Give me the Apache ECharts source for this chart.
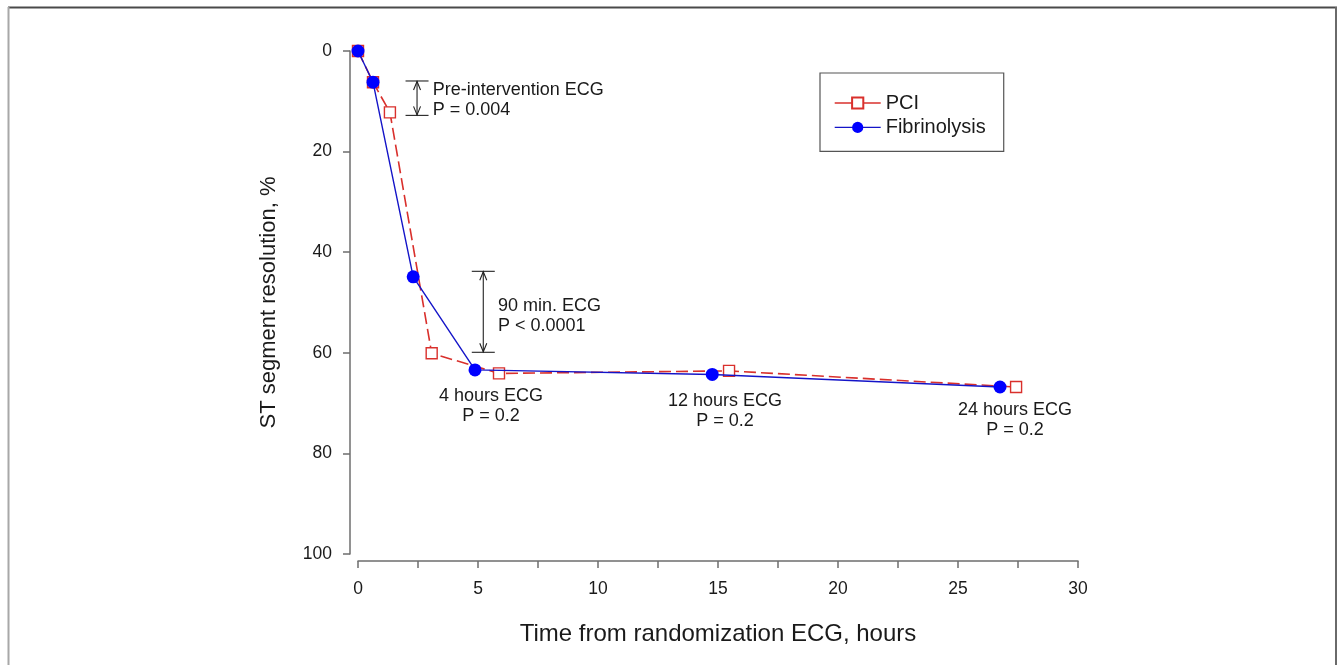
<!DOCTYPE html>
<html>
<head>
<meta charset="utf-8">
<script src="https://cdn.jsdelivr.net/npm/echarts@6/dist/echarts.min.js"></script>
<style>html,body{margin:0;padding:0;background:#fff;}#c{width:1341px;height:665px;}</style>
</head>
<body>
<div id="c"></div>
<script>
// ---- data (hours, % resolution) ----
const pciX = [0, 0.625, 1.33, 3.07, 5.875, 15.46, 27.42];
const pciY = [0, 6.2, 12.2, 60.1, 64.1, 63.6, 66.8];
const fibX = [0, 0.625, 2.3, 4.875, 14.76, 26.75];
const fibY = [0, 6.2, 44.9, 63.4, 64.3, 66.8];

// comparison brackets (x in hours, top/bottom in %)
const bracketX = [2.46, 5.22];
const bracketTop = [5.96, 43.8];
const bracketBottom = [12.8, 59.9];

// annotation texts and their anchors (data units)
const labelText = ['Pre-intervention ECG\nP = 0.004', '90 min. ECG\nP < 0.0001', '4 hours ECG\nP = 0.2', '12 hours ECG\nP = 0.2', '24 hours ECG\nP = 0.2'];
const labelX = [3.11, 5.83, 5.54, 15.29, 27.375];
const labelY = [9.7, 52.7, 70.5, 71.6, 73.4];
const labelAlign = ['left', 'left', 'center', 'center', 'center'];

const xTicks = [0, 5, 10, 15, 20, 25, 30];
const yTicks = [0, 20, 40, 60, 80, 100];

const FONT = 'Liberation Sans, Arial, sans-serif';
const AXIS = '#6e6e6e';
const TXT = '#1a1a1a';

const chart = echarts.init(document.getElementById('c'), null, {renderer: 'canvas'});

const zip = (xs, ys) => xs.map((x, i) => [x, ys[i]]);

const option = {
  backgroundColor: '#fff',
  animation: false,
  grid: {left: 358, top: 51, right: 263, bottom: 111, containLabel: false},
  xAxis: {
    type: 'value', min: xTicks[0], max: xTicks[xTicks.length - 1], interval: 5,
    position: 'bottom', offset: 7,
    name: 'Time from randomization ECG, hours', nameLocation: 'middle', nameGap: 61,
    nameTextStyle: {fontFamily: FONT, fontSize: 24, color: TXT},
    axisLine: {show: true, onZero: false, lineStyle: {color: AXIS, width: 1.5}},
    axisTick: {show: true, inside: false, length: 7, lineStyle: {color: AXIS, width: 1.5}},
    minorTick: {show: true, splitNumber: 2, length: 7, lineStyle: {color: AXIS, width: 1.5}},
    axisLabel: {fontFamily: FONT, fontSize: 17.5, color: TXT, margin: 19},
    splitLine: {show: false}
  },
  yAxis: {
    type: 'value', min: yTicks[0], max: yTicks[yTicks.length - 1], interval: 20, inverse: true,
    position: 'left', offset: 8,
    name: 'ST segment resolution, %', nameLocation: 'middle', nameGap: 70,
    nameTextStyle: {fontFamily: FONT, fontSize: 22, color: TXT},
    axisLine: {show: true, onZero: false, lineStyle: {color: AXIS, width: 1.5}},
    axisTick: {show: true, inside: false, length: 7, lineStyle: {color: AXIS, width: 1.5}},
    axisLabel: {fontFamily: FONT, fontSize: 17.5, color: TXT, margin: 18},
    splitLine: {show: false}
  },
  legend: {
    left: 820, top: 73, orient: 'vertical',
    data: ['PCI', 'Fibrinolysis'],
    itemWidth: 46, itemHeight: 14, itemGap: 4.4, itemTextGap: 11,
    padding: [20, 18, 14, 14],
    borderColor: '#555', borderWidth: 1.2, borderRadius: 0,
    lineStyle: {type: 'solid', width: 1.4},
    textStyle: {fontFamily: FONT, fontSize: 20, color: TXT}
  },
  graphic: [
    {type: 'line', shape: {x1: 8, y1: 7.5, x2: 1337, y2: 7.5}, style: {stroke: '#4a4a4a', lineWidth: 2}, silent: true},
    {type: 'line', shape: {x1: 8.5, y1: 7, x2: 8.5, y2: 700}, style: {stroke: '#a8a8a8', lineWidth: 2}, silent: true},
    {type: 'line', shape: {x1: 1336, y1: 7, x2: 1336, y2: 700}, style: {stroke: '#6a6a6a', lineWidth: 2}, silent: true}
  ],
  series: [
    {
      name: 'PCI', type: 'line', data: zip(pciX, pciY), z: 3,
      symbol: 'rect', symbolSize: 11,
      lineStyle: {color: '#d9302c', width: 1.6, type: [12, 5]},
      itemStyle: {color: '#ffffff', borderColor: '#d9302c', borderWidth: 1.4},
      color: '#d9302c'
    },
    {
      name: 'Fibrinolysis', type: 'line', data: zip(fibX, fibY), z: 4,
      symbol: 'circle', symbolSize: 13,
      lineStyle: {color: '#1414c8', width: 1.4},
      itemStyle: {color: '#0000ff', borderColor: '#0000ff', borderWidth: 0},
      color: '#0000ff'
    },
    {
      type: 'custom', name: 'brackets', z: 5, clip: false, silent: true,
      data: bracketX.map((x, i) => [x, bracketTop[i], bracketBottom[i]]),
      renderItem: function (params, api) {
        const a = api.coord([api.value(0), api.value(1)]);
        const b = api.coord([api.value(0), api.value(2)]);
        const hw = 11.5, ah = 9, aw = 3.5;
        const st = {stroke: '#222', lineWidth: 1.1, fill: null};
        return {type: 'group', children: [
          {type: 'line', shape: {x1: a[0] - hw, y1: a[1], x2: a[0] + hw, y2: a[1]}, style: st},
          {type: 'line', shape: {x1: b[0] - hw, y1: b[1], x2: b[0] + hw, y2: b[1]}, style: st},
          {type: 'line', shape: {x1: a[0], y1: a[1], x2: b[0], y2: b[1]}, style: st},
          {type: 'polyline', shape: {points: [[a[0] - aw, a[1] + ah], [a[0], a[1] + 0.5], [a[0] + aw, a[1] + ah]]}, style: st},
          {type: 'polyline', shape: {points: [[b[0] - aw, b[1] - ah], [b[0], b[1] - 0.5], [b[0] + aw, b[1] - ah]]}, style: st}
        ]};
      }
    },
    {
      type: 'custom', name: 'notes', z: 6, clip: false, silent: true,
      data: labelX.map((x, i) => [x, labelY[i]]),
      renderItem: function (params, api) {
        const p = api.coord([api.value(0), api.value(1)]);
        const i = params.dataIndex;
        return {type: 'text', x: p[0], y: p[1], style: {
          text: labelText[i], fontFamily: FONT, fontSize: 18, lineHeight: 20,
          fill: TXT, align: labelAlign[i], verticalAlign: 'middle'
        }};
      }
    }
  ]
};
chart.setOption(option);
</script>
</body>
</html>
